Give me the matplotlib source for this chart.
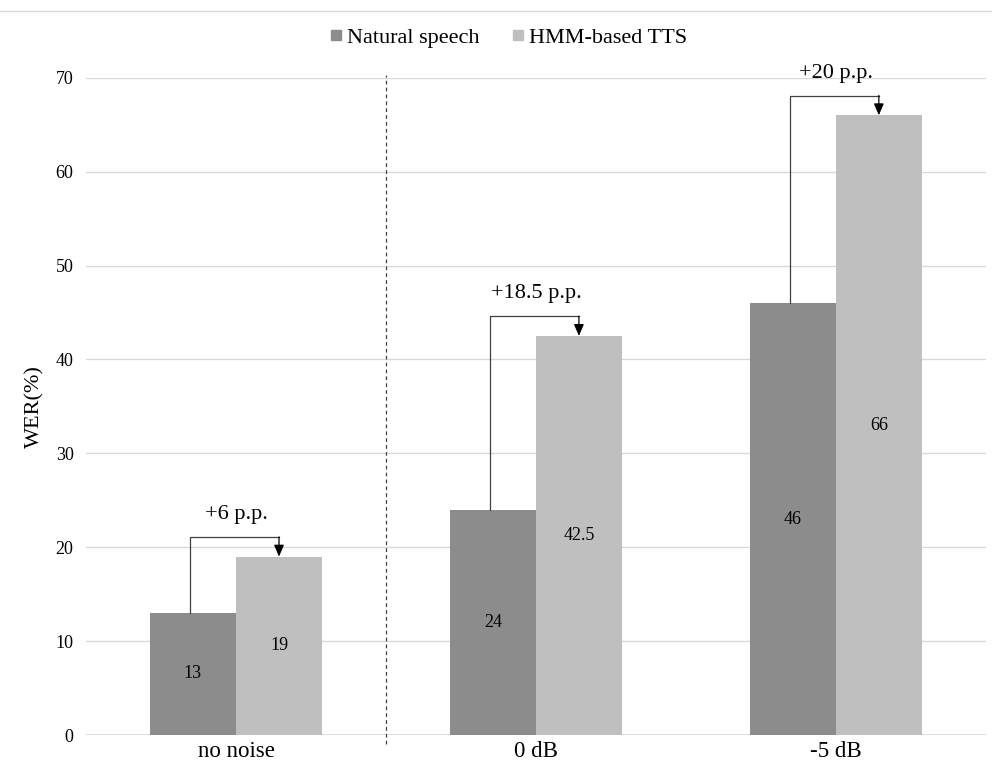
import matplotlib
matplotlib.use("Agg")
import matplotlib.pyplot as plt
import numpy as np
from matplotlib.lines import Line2D

# ---------------------------------------------------------------------------
# Data
# ---------------------------------------------------------------------------
conditions = ["no noise", "0 dB", "-5 dB"]
natural = [13, 24, 46]
tts = [19, 42.5, 66]
gap_labels = ["+6 p.p.", "+18.5 p.p.", "+20 p.p."]

DARK = "#8c8c8c"
LIGHT = "#bfbfbf"
GRID = "#d9d9d9"

plt.rcParams["font.family"] = ["Liberation Serif", "DejaVu Serif"]

fig = plt.figure(figsize=(9.92, 7.67), dpi=100)
ax = fig.add_axes([0.0867, 0.0417, 0.907, 0.857])

x = np.arange(len(conditions))
w = 0.287

b1 = ax.bar(x - w / 2, natural, w, color=DARK, label="Natural speech", zorder=3)
b2 = ax.bar(x + w / 2, tts, w, color=LIGHT, label="HMM-based TTS", zorder=3)

# value labels in the middle of each bar
for bars in (b1, b2):
    for bar in bars:
        h = bar.get_height()
        ax.text(bar.get_x() + bar.get_width() / 2, h / 2, f"{h:g}",
                ha="center", va="center", fontsize=13, zorder=4)

# brackets with arrows showing the gap
for i, (n, t, lab) in enumerate(zip(natural, tts, gap_labels)):
    top = t + 2.1
    x0 = x[i] - w / 2 - 0.01
    x1 = x[i] + w / 2
    ax.plot([x0, x0, x1], [n, top, top], color="#404040", lw=0.9,
            zorder=4, clip_on=False)
    ax.annotate("", xy=(x1, t), xytext=(x1, top),
                arrowprops=dict(arrowstyle="-|>,head_length=0.7,head_width=0.3",
                                color="black", lw=0.9, shrinkA=0, shrinkB=0),
                zorder=5, annotation_clip=False)
    ax.text(x[i], top + 2.4, lab, ha="center", va="center", fontsize=16,
            zorder=5, clip_on=False)

# dashed separator between clean and noisy conditions
ax.plot([0.5, 0.5], [-1.0, 70.3], color="#404040", lw=0.9, ls=(0, (3, 2.5)),
        zorder=2, clip_on=False)

ax.set_xlim(-0.5, 2.5)
ax.set_ylim(0, 70)
ax.set_yticks(range(0, 71, 10))
ax.set_xticks(x)
ax.set_xticklabels(conditions, fontsize=16.5)
ax.tick_params(axis="y", length=0, pad=9, labelsize=13)
ax.tick_params(axis="x", length=0, pad=4)
ax.yaxis.grid(True, color=GRID, lw=1.0, zorder=0)
ax.set_axisbelow(True)
for s in ax.spines.values():
    s.set_visible(False)
ax.axhline(0, color=GRID, lw=1.2, zorder=1)
ax.set_ylabel("WER(%)", fontsize=16, labelpad=8)

# legend
handles = [
    Line2D([], [], marker="s", ls="", color=DARK, markersize=7),
    Line2D([], [], marker="s", ls="", color=LIGHT, markersize=7),
]
fig.legend(handles, ["Natural speech", "HMM-based TTS"], loc="center",
           bbox_to_anchor=(0.51, 0.951), ncol=2, frameon=False, fontsize=16,
           handletextpad=0.0, columnspacing=1.2, handlelength=1.0)

# thin border line at top of the chart area
fig.add_artist(Line2D([0, 1], [1 - 11 / 767, 1 - 11 / 767], color="#d9d9d9",
                      lw=1.0, transform=fig.transFigure))

fig.savefig("out.png", dpi=100)
